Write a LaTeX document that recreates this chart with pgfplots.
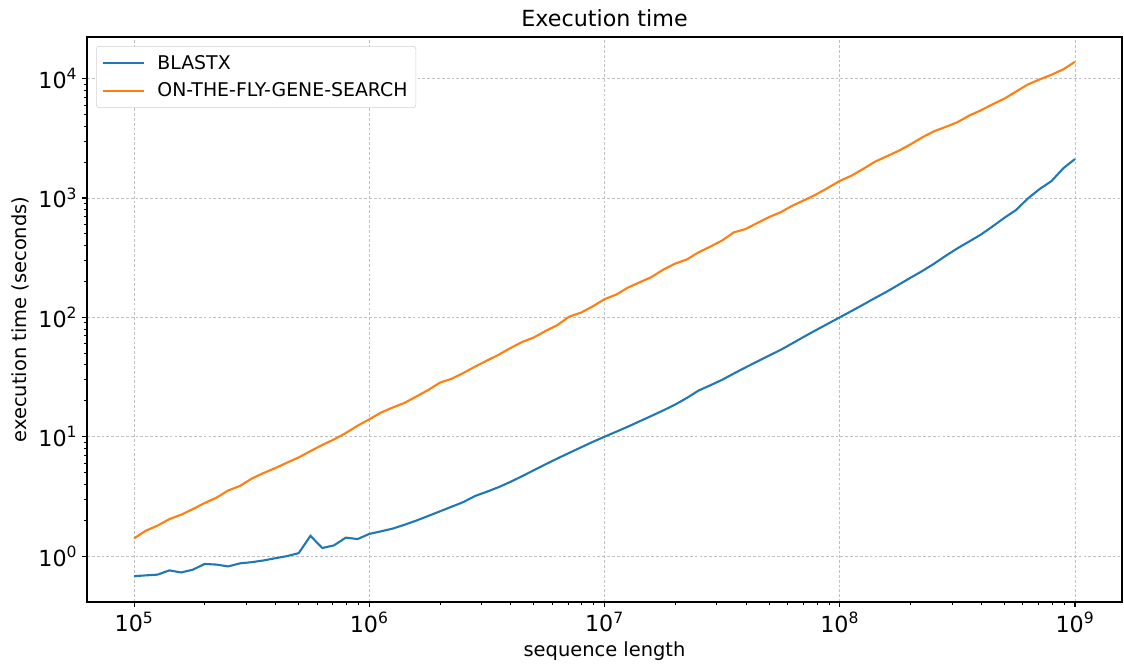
\documentclass[border=0pt]{standalone}
\usepackage{fontspec}
\setmainfont{DejaVu Sans}
\usepackage{pgfplots}
\usepackage{pgfplotstable}
\pgfplotsset{compat=1.18}
\definecolor{tabblue}{HTML}{1F77B4}
\definecolor{taborange}{HTML}{FF7F0E}
\pgfplotstableread{
x b o
1.0000e5 0.68 1.409
1.1220e5 0.69 1.633
1.2589e5 0.70 1.803
1.4125e5 0.76 2.042
1.5849e5 0.73 2.223
1.7783e5 0.77 2.477
1.9953e5 0.86 2.786
2.2387e5 0.85 3.083
2.5119e5 0.82 3.548
2.8184e5 0.87 3.873
3.1623e5 0.89 4.457
3.5481e5 0.92 4.966
3.9811e5 0.96 5.458
4.4668e5 1.00 6.067
5.0119e5 1.06 6.714
5.6234e5 1.48 7.586
6.3096e5 1.17 8.531
7.0795e5 1.23 9.506
7.9433e5 1.43 10.74
8.9125e5 1.39 12.36
1.0000e6 1.535 14.0
1.1220e6 1.614 15.96
1.2589e6 1.702 17.58
1.4125e6 1.832 19.23
1.5849e6 1.986 21.73
1.7783e6 2.168 24.60
1.9953e6 2.371 28.38
2.2387e6 2.594 30.62
2.5119e6 2.838 34.20
2.8184e6 3.192 38.73
3.1623e6 3.467 43.45
3.5481e6 3.784 48.64
3.9811e6 4.188 55.34
4.4668e6 4.677 62.23
5.0119e6 5.248 67.92
5.6234e6 5.888 77.09
6.3096e6 6.577 86.30
7.0795e6 7.328 101.4
7.9433e6 8.147 109.6
8.9125e6 9.057 123.6
1.0000e7 10.0 142.0
1.1220e7 11.02 155.2
1.2589e7 12.16 177.8
1.4125e7 13.49 196.8
1.5849e7 14.96 217.8
1.7783e7 16.63 251.2
1.9953e7 18.58 281.8
2.2387e7 21.13 305.5
2.5119e7 24.38 350.8
2.8184e7 26.98 391.7
3.1623e7 29.99 440.6
3.5481e7 33.88 515.2
3.9811e7 38.11 549.5
4.4668e7 42.76 618.0
5.0119e7 47.86 691.8
5.6234e7 53.58 762.1
6.3096e7 60.81 865.0
7.0795e7 69.18 959.4
7.9433e7 78.34 1071.5
8.9125e7 88.51 1216.2
1.0000e8 100.0 1390
1.1220e8 113.0 1538
1.2589e8 127.9 1754
1.4125e8 145.2 2014
1.5849e8 164.1 2234
1.7783e8 187.5 2483
1.9953e8 214.3 2805
2.2387e8 243.8 3214
2.5119e8 280.5 3614
2.8184e8 327.3 3936
3.1623e8 378.4 4305
3.5481e8 431.5 4898
3.9811e8 493.3 5420
4.4668e8 578.1 6095
5.0119e8 682.3 6792
5.6234e8 794.3 7798
6.3096e8 990.8 8933
7.0795e8 1188.5 9840
7.9433e8 1383.6 10765
8.9125e8 1770.1 11940
1.0000e9 2118.4 13804
}\datatable
\begin{document}
\begin{tikzpicture}
\useasboundingbox (-62.64pt,-44.64pt) rectangle (746.64pt,433.44pt);
\begin{axis}[
  at={(0pt,0pt)}, anchor=south west,
  scale only axis,
  width=745.2pt, height=406.8pt,
  xmode=log, ymode=log,
  xmin=63096, xmax=1.585e9,
  ymin=0.413, ymax=22300,
  axis line style={line width=0.8pt},
  tick align=outside,
  xtick pos=left, ytick pos=left,
  major tick length=3.5pt, minor tick length=2pt,
  every tick/.style={black, line width=0.8pt},
  minor tick style={line width=0.6pt},
  xtick={1e5,1e6,1e7,1e8,1e9},
  xticklabels={10\textsuperscript{5},10\textsuperscript{6},10\textsuperscript{7},10\textsuperscript{8},10\textsuperscript{9}},
  ytick={1,10,100,1000,10000},
  yticklabels={10\textsuperscript{0},10\textsuperscript{1},10\textsuperscript{2},10\textsuperscript{3},10\textsuperscript{4}},
  ticklabel style={font=\fontsize{16}{19}\selectfont},
  grid=major,
  major grid style={gray!50, line width=0.5pt, dash pattern=on 2pt off 1.5pt},
  title={Execution time},
  title style={font=\fontsize{16}{19}\selectfont, yshift=-2pt},
  xlabel={sequence length},
  ylabel={execution time (seconds)},
  label style={font=\fontsize{14}{17}\selectfont},
  legend style={at={(0.0087,0.984)}, anchor=north west, draw=gray!35, rounded corners=2pt,
    fill=white, font=\fontsize{13.6}{16}\selectfont, inner xsep=4pt, inner ysep=4.5pt,
    row sep=4pt, column sep=7pt},
  legend cell align=left,
  legend image code/.code={\draw[#1] (0pt,0pt) -- (29.5pt,0pt);},
]
\addplot[tabblue, line width=1.5pt] table[x=x, y=b] {\datatable};
\addlegendentry{BLASTX}
\addplot[taborange, line width=1.5pt] table[x=x, y=o] {\datatable};
\addlegendentry{ON-THE-FLY-GENE-SEARCH}
\end{axis}
\end{tikzpicture}
\end{document}
